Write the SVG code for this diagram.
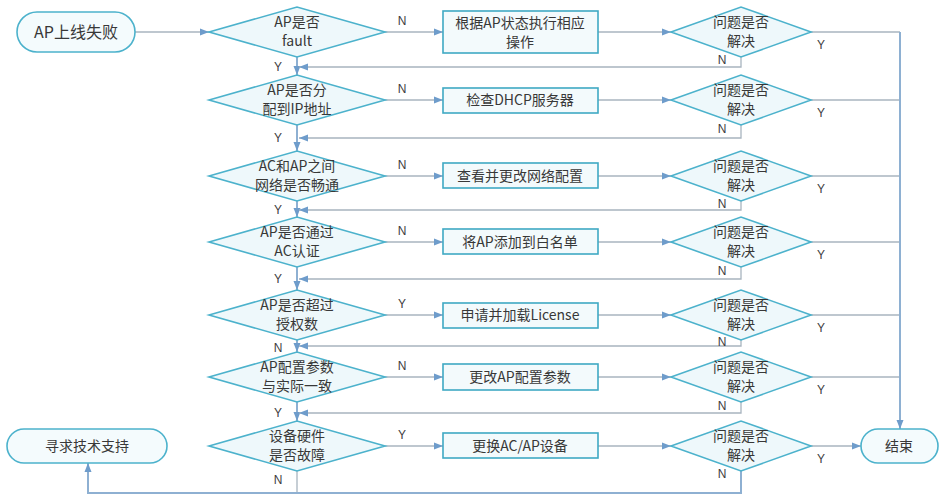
<svg xmlns="http://www.w3.org/2000/svg" width="945" height="502" viewBox="0 0 945 502">
<defs>
<marker id="arr" markerUnits="userSpaceOnUse" markerWidth="10" markerHeight="8" refX="9" refY="4" orient="auto">
<path d="M0,0.5 L9,4 L0,7.5 Z" fill="#6e9ccb"/>
</marker>
</defs>
<style>
.dia{fill:#eef8fb;stroke:#4cb2cc;stroke-width:1.6}
.box{fill:#f3fafc;stroke:#3fa9c3;stroke-width:1.6}
.pill{fill:#f4fbfd;stroke:#4cb2cc;stroke-width:1.6}
.t{font-family:"Noto Sans CJK SC","Noto Sans",sans-serif;font-size:14px;fill:#383838;text-anchor:middle}
.lb{font-family:"Liberation Sans","Noto Sans",sans-serif;font-size:12px;fill:#404040;text-anchor:middle}
.ln{fill:none;stroke:#a8b4bf;stroke-width:1.3}
.lv{fill:none;stroke:#8eb0d2;stroke-width:2}
</style>
<rect width="945" height="502" fill="#ffffff"/>
<g id="connectors">
<path class="ln" d="M135,32 H209" marker-end="url(#arr)"/>
<path class="ln" d="M385,32 H443" marker-end="url(#arr)"/>
<path class="ln" d="M385,100 H443" marker-end="url(#arr)"/>
<path class="ln" d="M385,176 H443" marker-end="url(#arr)"/>
<path class="ln" d="M385,242 H443" marker-end="url(#arr)"/>
<path class="ln" d="M385,315 H443" marker-end="url(#arr)"/>
<path class="ln" d="M385,377 H443" marker-end="url(#arr)"/>
<path class="ln" d="M385,446 H443" marker-end="url(#arr)"/>
<path class="ln" d="M598,32 H671" marker-end="url(#arr)"/>
<path class="ln" d="M598,100 H671" marker-end="url(#arr)"/>
<path class="ln" d="M598,176 H671" marker-end="url(#arr)"/>
<path class="ln" d="M598,242 H671" marker-end="url(#arr)"/>
<path class="ln" d="M598,315 H671" marker-end="url(#arr)"/>
<path class="ln" d="M598,377 H671" marker-end="url(#arr)"/>
<path class="ln" d="M598,446 H671" marker-end="url(#arr)"/>
<path class="lv" d="M297,57 V75" marker-end="url(#arr)"/>
<path class="lv" d="M297,125 V151" marker-end="url(#arr)"/>
<path class="lv" d="M297,201 V217" marker-end="url(#arr)"/>
<path class="lv" d="M297,267 V290" marker-end="url(#arr)"/>
<path class="lv" d="M297,340 V352" marker-end="url(#arr)"/>
<path class="lv" d="M297,402 V421" marker-end="url(#arr)"/>
<path class="ln" d="M741,57 V67 H299" marker-end="url(#arr)"/>
<path class="ln" d="M741,125 V138 H299" marker-end="url(#arr)"/>
<path class="ln" d="M741,201 V210 H299" marker-end="url(#arr)"/>
<path class="ln" d="M741,267 V279 H299" marker-end="url(#arr)"/>
<path class="ln" d="M741,340 V346 H299" marker-end="url(#arr)"/>
<path class="ln" d="M741,402 V413 H299" marker-end="url(#arr)"/>
<path class="ln" d="M811,32 H900"/>
<path class="ln" d="M811,100 H900"/>
<path class="ln" d="M811,176 H900"/>
<path class="ln" d="M811,242 H900"/>
<path class="ln" d="M811,315 H900"/>
<path class="ln" d="M811,377 H900"/>
<path class="lv" d="M900,32 V429" marker-end="url(#arr)"/>
<path class="ln" d="M811,446 H861" marker-end="url(#arr)"/>
<path class="ln" d="M297,471 V493"/>
<path class="lv" d="M741,471 V493 H88 V463" marker-end="url(#arr)"/>
</g>
<g id="labels">
<text class="lb" x="402" y="25">N</text>
<text class="lb" x="402" y="93">N</text>
<text class="lb" x="402" y="169">N</text>
<text class="lb" x="402" y="235">N</text>
<text class="lb" x="402" y="308">Y</text>
<text class="lb" x="402" y="370">N</text>
<text class="lb" x="402" y="439">Y</text>
<text class="lb" x="278" y="71">Y</text>
<text class="lb" x="278" y="142">Y</text>
<text class="lb" x="278" y="214">Y</text>
<text class="lb" x="278" y="283">Y</text>
<text class="lb" x="278" y="352">N</text>
<text class="lb" x="278" y="417">Y</text>
<text class="lb" x="278" y="484">N</text>
<text class="lb" x="821" y="49">Y</text>
<text class="lb" x="821" y="117">Y</text>
<text class="lb" x="821" y="193">Y</text>
<text class="lb" x="821" y="259">Y</text>
<text class="lb" x="821" y="332">Y</text>
<text class="lb" x="821" y="394">Y</text>
<text class="lb" x="821" y="463">Y</text>
<text class="lb" x="722" y="64">N</text>
<text class="lb" x="722" y="133">N</text>
<text class="lb" x="722" y="208">N</text>
<text class="lb" x="722" y="275">N</text>
<text class="lb" x="722" y="346">N</text>
<text class="lb" x="722" y="410">N</text>
<text class="lb" x="722" y="478">N</text>
</g>
<g id="start">
<rect class="pill" x="17" y="12" width="118" height="40" rx="20"/>
<text class="t" x="76" y="38" style="font-size:16px">AP上线失败</text>
</g>
<g id="support">
<rect class="pill" x="7" y="429" width="160" height="34" rx="17"/>
<text class="t" x="87" y="451">寻求技术支持</text>
</g>
<g id="end">
<rect class="pill" x="861" y="429" width="77" height="34" rx="17"/>
<text class="t" x="899" y="451">结束</text>
</g>
<g id="q1"><polygon class="dia" points="209,32 297,7 385,32 297,57"/><text class="t" x="297" y="27">AP是否</text><text class="t" x="297" y="46">fault</text></g>
<g id="q2"><polygon class="dia" points="209,100 297,75 385,100 297,125"/><text class="t" x="297" y="95">AP是否分</text><text class="t" x="297" y="114">配到IP地址</text></g>
<g id="q3"><polygon class="dia" points="209,176 297,151 385,176 297,201"/><text class="t" x="297" y="171">AC和AP之间</text><text class="t" x="297" y="190">网络是否畅通</text></g>
<g id="q4"><polygon class="dia" points="209,242 297,217 385,242 297,267"/><text class="t" x="297" y="237">AP是否通过</text><text class="t" x="297" y="256">AC认证</text></g>
<g id="q5"><polygon class="dia" points="209,315 297,290 385,315 297,340"/><text class="t" x="297" y="310">AP是否超过</text><text class="t" x="297" y="329">授权数</text></g>
<g id="q6"><polygon class="dia" points="209,377 297,352 385,377 297,402"/><text class="t" x="297" y="372">AP配置参数</text><text class="t" x="297" y="391">与实际一致</text></g>
<g id="q7"><polygon class="dia" points="209,446 297,421 385,446 297,471"/><text class="t" x="297" y="441">设备硬件</text><text class="t" x="297" y="460">是否故障</text></g>
<g id="a1"><rect class="box" x="443" y="11" width="155" height="42"/><text class="t" x="520" y="28">根据AP状态执行相应</text><text class="t" x="520" y="47">操作</text></g>
<g id="a2"><rect class="box" x="443" y="88" width="155" height="25"/><text class="t" x="520" y="105">检查DHCP服务器</text></g>
<g id="a3"><rect class="box" x="443" y="163" width="155" height="25"/><text class="t" x="520" y="181">查看并更改网络配置</text></g>
<g id="a4"><rect class="box" x="443" y="229" width="155" height="25"/><text class="t" x="520" y="247">将AP添加到白名单</text></g>
<g id="a5"><rect class="box" x="443" y="303" width="155" height="25"/><text class="t" x="520" y="320">申请并加载License</text></g>
<g id="a6"><rect class="box" x="443" y="364" width="155" height="26"/><text class="t" x="520" y="382">更改AP配置参数</text></g>
<g id="a7"><rect class="box" x="443" y="433" width="155" height="25"/><text class="t" x="520" y="451">更换AC/AP设备</text></g>
<g id="r1"><polygon class="dia" points="671,32 741,7 811,32 741,57"/><text class="t" x="741" y="27">问题是否</text><text class="t" x="741" y="46">解决</text></g>
<g id="r2"><polygon class="dia" points="671,100 741,75 811,100 741,125"/><text class="t" x="741" y="95">问题是否</text><text class="t" x="741" y="114">解决</text></g>
<g id="r3"><polygon class="dia" points="671,176 741,151 811,176 741,201"/><text class="t" x="741" y="171">问题是否</text><text class="t" x="741" y="190">解决</text></g>
<g id="r4"><polygon class="dia" points="671,242 741,217 811,242 741,267"/><text class="t" x="741" y="237">问题是否</text><text class="t" x="741" y="256">解决</text></g>
<g id="r5"><polygon class="dia" points="671,315 741,290 811,315 741,340"/><text class="t" x="741" y="310">问题是否</text><text class="t" x="741" y="329">解决</text></g>
<g id="r6"><polygon class="dia" points="671,377 741,352 811,377 741,402"/><text class="t" x="741" y="372">问题是否</text><text class="t" x="741" y="391">解决</text></g>
<g id="r7"><polygon class="dia" points="671,446 741,421 811,446 741,471"/><text class="t" x="741" y="441">问题是否</text><text class="t" x="741" y="460">解决</text></g>
</svg>
